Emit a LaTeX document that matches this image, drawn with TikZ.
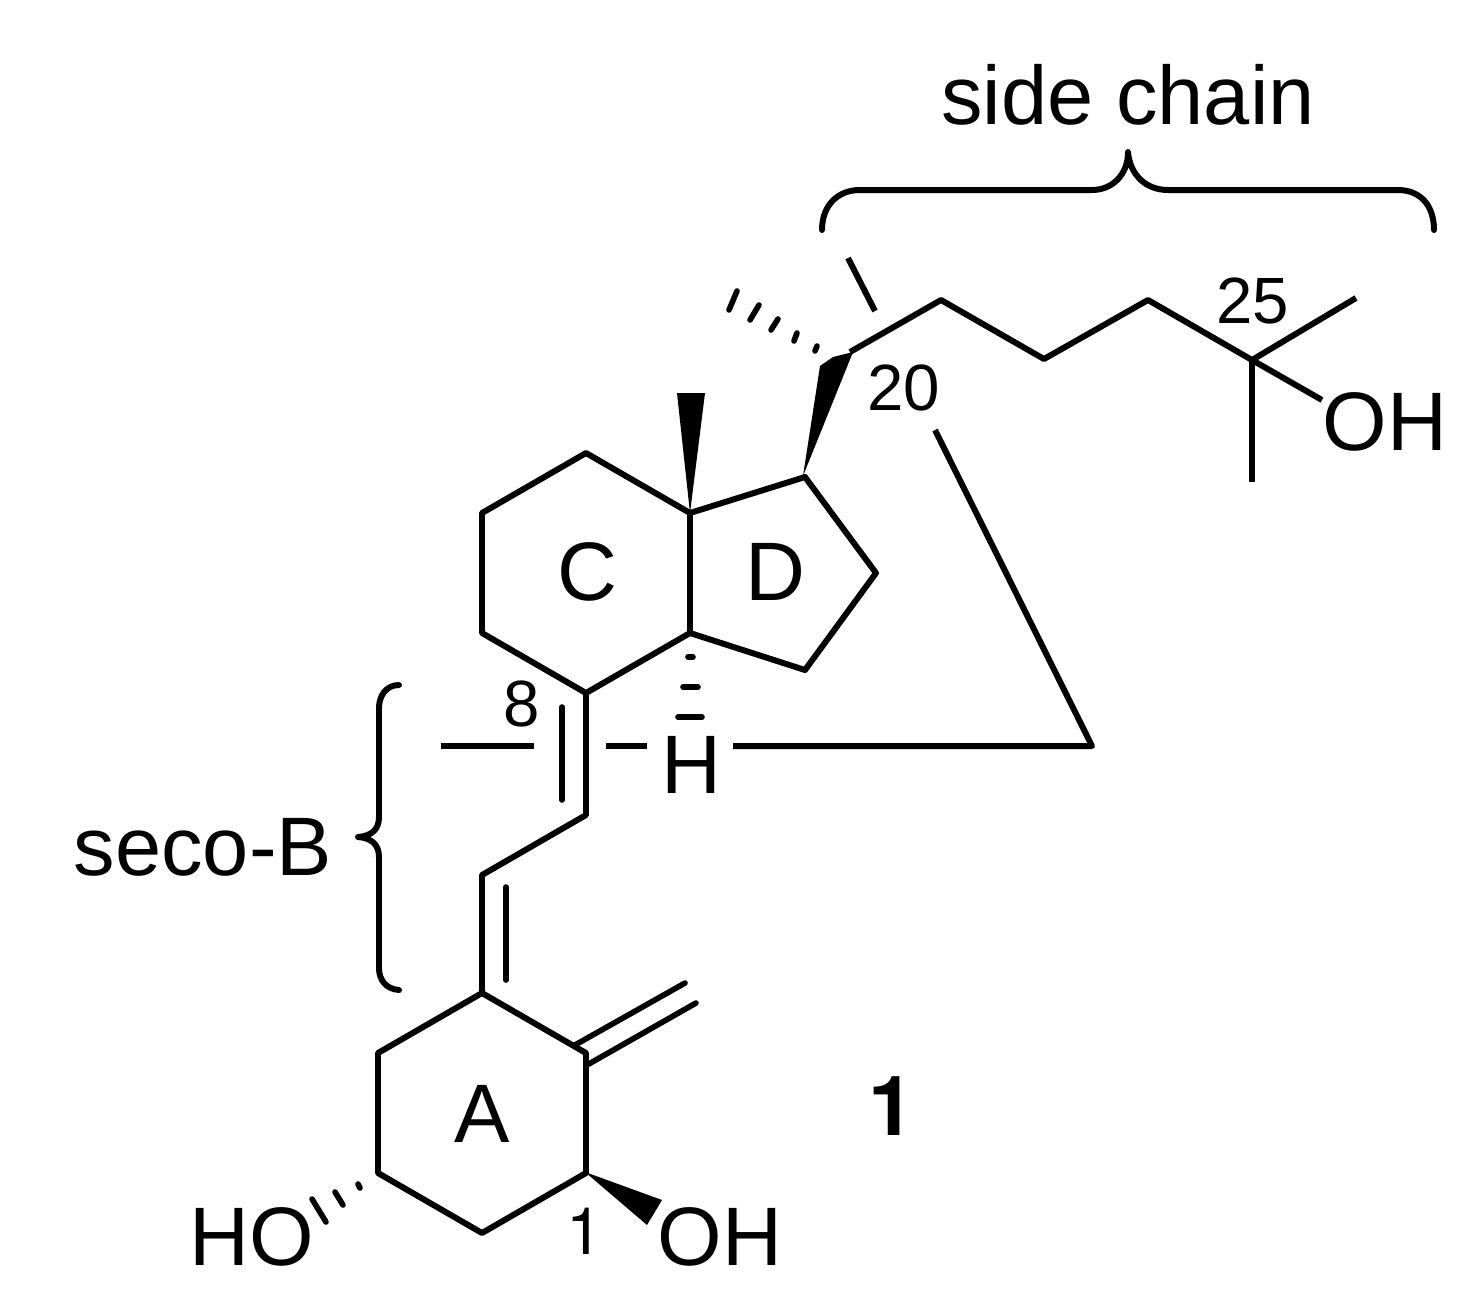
\documentclass[tikz,border=0pt]{standalone}
\usepackage{fontspec}
\setmainfont{Liberation Sans}
\newfontfamily\heros{TeX Gyre Heros}
\tikzset{
  bond/.style={line width=1.7pt,line join=round},
  hash/.style={line width=1.6pt,line cap=round},
  wedge/.style={fill=black,draw=none},
  brace/.style={line width=1.7pt,line cap=round,line join=round},
  atom/.style={inner sep=0,anchor=base,font=\fontsize{23.6}{24}\selectfont},
  locant/.style={inner sep=0,anchor=base,font=\fontsize{18.6}{20}\selectfont}
}
\begin{document}
\begin{tikzpicture}[x=.01cm,y=-.01cm]
  \useasboundingbox (0,0) rectangle (1484,1302);
  % atoms
  \coordinate (c20) at (850,352);
  \coordinate (c22) at (941,300);
  \coordinate (c23) at (1044,359);
  \coordinate (c24) at (1148,300);
  \coordinate (c25) at (1252,360);
  \coordinate (c26) at (1356,298);
  \coordinate (c27) at (1252,482);
  \coordinate (o25) at (1322,400);
  \coordinate (c17) at (805,477);
  \coordinate (c16) at (876,573);
  \coordinate (c15) at (805,670);
  \coordinate (c14) at (690,633);
  \coordinate (c13) at (690,513);
  \coordinate (c12) at (586,453);
  \coordinate (c11) at (482,513);
  \coordinate (c9) at (482,633);
  \coordinate (c8) at (586,693);
  \coordinate (c7) at (586,815);
  \coordinate (c6) at (482,875);
  \coordinate (c5) at (482,993);
  \coordinate (c10) at (586,1053);
  \coordinate (c1) at (586,1173);
  \coordinate (c2) at (482,1233);
  \coordinate (c3) at (378,1173);
  \coordinate (c4) at (378,1053);
  % rings and chains
  \draw[bond] (c20) -- (c22) -- (c23) -- (c24) -- (c25) -- (c26);
  \draw[bond] (c25) -- (c27);
  \draw[bond] (c25) -- (o25);
  \draw[bond] (c13) -- (c12) -- (c11) -- (c9) -- (c8) -- (c14) -- (c13);
  \draw[bond] (c13) -- (c17) -- (c16) -- (c15) -- (c14);
  \draw[bond] (c8) -- (c7) -- (c6) -- (c5) -- (c10) -- (c1) -- (c2) -- (c3) -- (c4) -- (c5);
  % inner lines of the double bonds
  \coordinate (d8a) at (562,707);
  \coordinate (d8b) at (562,800);
  \coordinate (d6a) at (506,887);
  \coordinate (d6b) at (506,980);
  \draw[hash] (d8a) -- (d8b);
  \draw[hash] (d6a) -- (d6b);
  \coordinate (e1a) at (587,1065);
  \coordinate (e1b) at (696,1003);
  \coordinate (e2a) at (575,1045);
  \coordinate (e2b) at (685,983);
  \draw[hash] (e1a) -- (e1b);
  \draw[hash] (e2a) -- (e2b);
  % wedges
  \fill[wedge] (c13) -- (677,393) -- (705,393) -- cycle;
  \fill[wedge] (803,476) -- (820,366) -- (833,357) -- (853,352) -- cycle;
  \fill[wedge] (585,1172) -- (662,1200) -- (647,1225) -- cycle;
  % hashed bonds
  \foreach \xa/\ya/\xb/\yb in {737/291/729/310,759/305/750/320,778/319/771/330,797/333/794/341,817/346/815/351}
    \draw[hash] (\xa,\ya) -- (\xb,\yb);
  \foreach \xa/\xb/\yy in {688/693/657,683/698/687,678/702/717}
    \draw[hash] (\xa,\yy) -- (\xb,\yy);
  \foreach \xa/\ya/\xb/\yb in {358/1184/360/1188,335/1192/343/1205,312/1199/326/1222}
    \draw[hash] (\xa,\ya) -- (\xb,\yb);
  % the bonds that pass behind
  \coordinate (s1) at (848,258);
  \coordinate (s2) at (875,311);
  \coordinate (s3) at (935,430);
  \coordinate (s4) at (1092,746);
  \coordinate (s5) at (733,746);
  \coordinate (s6) at (647,746);
  \coordinate (s7) at (606,746);
  \coordinate (s8) at (534,746);
  \coordinate (s9) at (441,746);
  \draw[bond] (s1) -- (s2);
  \draw[bond] (s3) -- (s4) -- (s5);
  \draw[bond] (s6) -- (s7);
  \draw[bond] (s8) -- (s9);
  % braces
  \draw[brace] (822,230) .. controls (822,205) and (838,190) .. (860,190) -- (1092,190)
    .. controls (1112,190) and (1128,175) .. (1128,152)
    .. controls (1130,175) and (1146,190) .. (1168,190) -- (1398,190)
    .. controls (1420,190) and (1434,205) .. (1434,230);
  \draw[brace] (399,685) .. controls (386,685) and (379,696) .. (379,708) -- (379,817)
    .. controls (379,829) and (372,836) .. (358,837)
    .. controls (372,838) and (379,845) .. (379,857) -- (379,968)
    .. controls (379,980) and (386,989) .. (399,990);
  % labels
  \node[atom] (sidechain) at (1128,124) {side chain};
  \node[atom] (secoB) at (203,875) {seco-B};
  \node[atom] (ringA) at (482,1142) {A};
  \node[atom] (ringC) at (587,600) {C};
  \node[atom] (ringD) at (775,600) {D};
  \node[atom] (hC14) at (691,793) {H};
  \node[atom] (oh25) at (1385,450) {OH};
  \node[atom] (ho3) at (252,1265) {HO};
  \node[atom] (oh1) at (720,1265) {OH};
  \node[locant] (n20) at (904,410) {20};
  \node[locant] (n25) at (1253,323) {25};
  \node[locant] (n8) at (522,726) {8};
  \node[locant,font=\fontsize{18.6}{20}\heros\selectfont] (n1) at (585,1254) {1};
  \node[atom,font=\fontsize{23.6}{24}\heros\bfseries\selectfont] (cpd) at (892,1135) {1};
\end{tikzpicture}
\end{document}
